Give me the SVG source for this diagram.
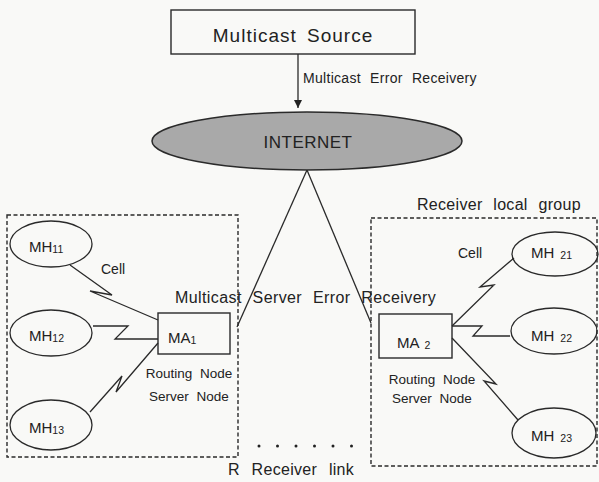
<svg xmlns="http://www.w3.org/2000/svg" width="599" height="482" viewBox="0 0 599 482">
<style>
text{font-family:"Liberation Sans",Arial,sans-serif;fill:#222}
.box{fill:none;stroke:#2a2a2a;stroke-width:1.4}
.ell{fill:none;stroke:#2a2a2a;stroke-width:1.3}
.grp{fill:none;stroke:#2a2a2a;stroke-width:1.4;stroke-dasharray:4 2.5}
.ln{fill:none;stroke:#2a2a2a;stroke-width:1.3;stroke-linejoin:miter}
.lbl{font-size:13.5px;word-spacing:4px}
.mh{font-size:15px}
.sub{font-size:10.5px}
</style>
<defs>
<marker id="arr" viewBox="0 0 10 10" refX="10" refY="5" markerWidth="8" markerHeight="10" markerUnits="userSpaceOnUse" orient="auto">
<path d="M0,0 L10,5 L0,10 Z" fill="#222"/>
</marker>
</defs>
<rect width="599" height="482" fill="#f9f9f7"/>

<g id="connectors">
<line class="ln" x1="298" y1="54" x2="298" y2="108" marker-end="url(#arr)"/>
<line class="ln" x1="307" y1="170" x2="237" y2="327"/>
<line class="ln" x1="307" y1="170" x2="371" y2="323"/>
<polyline class="ln" points="70,265 112,295 90,291 158,320"/>
<polyline class="ln" points="93,326 128,326 115,339 158,339"/>
<polyline class="ln" points="90,412 122,376 116,392 158,343"/>
<polyline class="ln" points="452,326 494,285 480,287 514,258"/>
<polyline class="ln" points="452,326 482,326 473,336 510,336"/>
<polyline class="ln" points="452,338 496,384 484,381 518,420"/>
</g>

<g id="source">
<rect class="box" x="171" y="10" width="244" height="44"/>
<text x="293" y="42" text-anchor="middle" font-size="19" letter-spacing="1" word-spacing="4">Multicast Source</text>
</g>
<text x="303" y="83" font-size="14" letter-spacing="0.3" word-spacing="5">Multicast Error Receivery</text>

<g id="internet">
<ellipse cx="307" cy="141" rx="155" ry="29" fill="#a9a9a9" stroke="#2a2a2a" stroke-width="1.5"/>
<text x="308" y="148" text-anchor="middle" font-size="17" letter-spacing="0.5">INTERNET</text>
</g>

<g id="group1">
<rect class="grp" x="7" y="215" width="231" height="242"/>
</g>
<g id="group2">
<rect class="grp" x="371" y="218" width="226" height="248"/>
<text x="417" y="210" font-size="16" letter-spacing="0.3" word-spacing="6">Receiver local group</text>
</g>

<text x="175" y="303" font-size="16" letter-spacing="0.4" word-spacing="6">Multicast Server Error Receivery</text>

<g id="MA1">
<rect class="box" x="158" y="313" width="72" height="41"/>
<text x="168" y="343" font-size="15">MA<tspan class="sub" dy="1">1</tspan></text>
<text class="lbl" x="189" y="378" text-anchor="middle">Routing Node</text>
<text class="lbl" x="189" y="401" text-anchor="middle">Server Node</text>
</g>

<g id="MA2">
<rect class="box" x="379" y="314" width="73" height="44"/>
<text x="397" y="348" font-size="15">MA<tspan class="sub" dx="5" dy="1">2</tspan></text>
<text class="lbl" x="432" y="384" text-anchor="middle">Routing Node</text>
<text class="lbl" x="432" y="403" text-anchor="middle">Server Node</text>
</g>

<g id="MH11">
<ellipse class="ell" cx="51" cy="244" rx="41" ry="23"/>
<text class="mh" x="29" y="252">MH<tspan class="sub" dy="1">11</tspan></text>
</g>
<g id="MH12">
<ellipse class="ell" cx="51" cy="333" rx="41" ry="23"/>
<text class="mh" x="29" y="341">MH<tspan class="sub" dy="1">12</tspan></text>
</g>
<g id="MH13">
<ellipse class="ell" cx="51" cy="425" rx="41" ry="25"/>
<text class="mh" x="29" y="433">MH<tspan class="sub" dy="1">13</tspan></text>
</g>
<text x="101" y="274" font-size="14">Cell</text>

<g id="MH21">
<ellipse class="ell" cx="555" cy="254" rx="43" ry="22"/>
<text class="mh" x="531" y="258">MH<tspan class="sub" dx="6" dy="1">21</tspan></text>
</g>
<g id="MH22">
<ellipse class="ell" cx="554" cy="331" rx="43" ry="23"/>
<text class="mh" x="531" y="341">MH<tspan class="sub" dx="6" dy="1">22</tspan></text>
</g>
<g id="MH23">
<ellipse class="ell" cx="554" cy="433" rx="42" ry="25"/>
<text class="mh" x="531" y="441">MH<tspan class="sub" dx="6" dy="1">23</tspan></text>
</g>
<text x="458" y="258" font-size="14">Cell</text>

<g id="dots" fill="#222">
<circle cx="259" cy="446" r="1.5"/>
<circle cx="277.5" cy="446" r="1.5"/>
<circle cx="296" cy="446" r="1.5"/>
<circle cx="314.5" cy="446" r="1.5"/>
<circle cx="333" cy="446" r="1.5"/>
<circle cx="351.5" cy="446" r="1.5"/>
</g>
<text x="228" y="475" font-size="16" letter-spacing="0.3" word-spacing="7">R Receiver link</text>
</svg>
